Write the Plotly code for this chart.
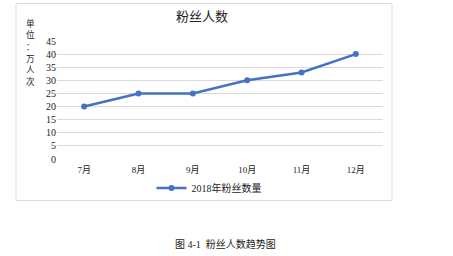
import plotly.graph_objects as go

months = ["7月", "8月", "9月", "10月", "11月", "12月"]
fans = [20, 25, 25, 30, 33, 40]
series_name = "2018年粉丝数量"
y_ticks = [0, 5, 10, 15, 20, 25, 30, 35, 40, 45]
unit_label = "单位：万人次"

W, H = 453, 256
L, R, T, B = 57, 383, 41.3, 158.7

def px(x):
    return (x - L) / (R - L)

def py(y):
    return (B - y) / (B - T)

fig = go.Figure()
fig.add_trace(go.Scatter(
    x=months, y=fans, mode="lines+markers", name=series_name,
    line=dict(color="#4472C4", width=2.5),
    marker=dict(color="#4472C4", size=6),
))

serif = "Liberation Serif, Noto Sans CJK SC, serif"
cjk = "Noto Sans CJK SC, sans-serif"

annotations = [
    dict(text="粉丝人数", xref="paper", yref="paper", x=px(202), y=py(16),
         showarrow=False, font=dict(family=cjk, size=13, color="#222"),
         xanchor="center", yanchor="middle"),
    dict(text="图 4-1  粉丝人数趋势图", xref="paper", yref="paper",
         x=px(225), y=py(243), showarrow=False, xanchor="center", yanchor="middle",
         font=dict(family=serif, size=10, color="#222")),
]
for i, ch in enumerate(unit_label):
    annotations.append(dict(
        text=ch, xref="paper", yref="paper", x=px(30), y=py(23 + 11.6 * i),
        showarrow=False, xanchor="center", yanchor="middle", borderpad=0,
        font=dict(family=cjk, size=8.6, color="#222")))

fig.update_layout(
    width=W, height=H,
    margin=dict(l=L, r=W - R, t=T, b=H - B, pad=0),
    paper_bgcolor="white", plot_bgcolor="white",
    showlegend=True,
    legend=dict(orientation="h", x=px(209), y=py(187.5), xanchor="center", yanchor="middle",
                font=dict(family=serif, size=10, color="#222"), itemwidth=30,
                bgcolor="rgba(0,0,0,0)"),
    xaxis=dict(type="category", range=[-0.5, 5.5], showgrid=False, showline=False,
               ticks="", tickfont=dict(family=serif, size=9, color="#222"), zeroline=False),
    yaxis=dict(range=[0, 45], tickvals=y_ticks, showgrid=True, gridcolor="#d9d9d9",
               gridwidth=1, zeroline=False, showline=False, ticks="",
               tickfont=dict(family=serif, size=10, color="#222")),
    shapes=[dict(type="rect", xref="paper", yref="paper",
                 x0=px(16), x1=px(392), y0=py(200), y1=py(4),
                 line=dict(color="#d9d9d9", width=1), layer="below")],
    annotations=annotations,
)
fig.update_xaxes(ticklabelstandoff=4)

fig.write_html("out.html")
